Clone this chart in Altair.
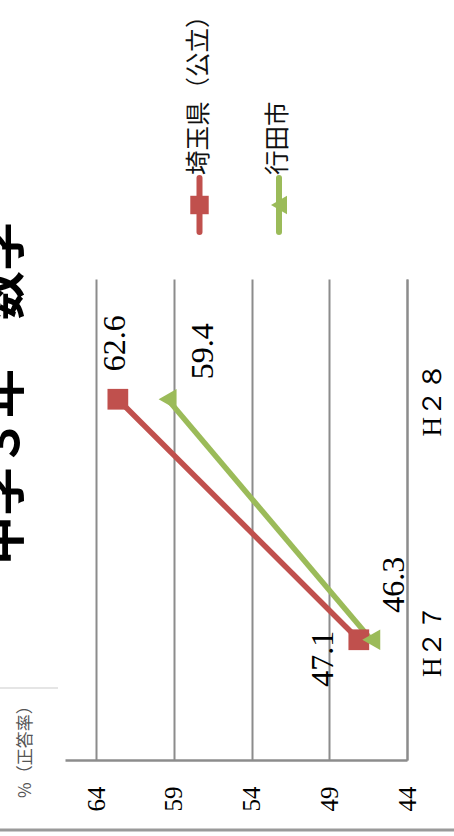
import altair as alt
import pandas as pd

# Survey years (category axis) and correct-answer rates (%)
years = ["H２７", "H２８"]
series = ["埼玉県（公立）", "行田市"]
saitama = [47.1, 62.6]
gyoda = [46.3, 59.4]
value_ticks = [44, 49, 54, 59, 64]

colors = ["#C0504D", "#9BBB59"]
shapes = ["square", "triangle-left"]

rows = []
for name, vals in zip(series, [saitama, gyoda]):
    for yr, v in zip(years, vals):
        rows.append({"series": name, "year": yr, "value": v})
df = pd.DataFrame(rows)

SERIF = "'Liberation Serif', 'Times New Roman', 'DejaVu Serif', serif"
CJK = "'Noto Sans CJK JP', sans-serif"
GRID = "#8c8c8c"

x_enc = alt.X(
    "value:Q",
    scale=alt.Scale(domain=[44, 66], reverse=True, nice=False, zero=False),
    axis=alt.Axis(
        values=value_ticks, format="d", orient="bottom", title=None,
        grid=True, gridColor=GRID, gridWidth=2,
        domainColor=GRID, domainWidth=2.5,
        ticks=False, tickSize=0, labelFlush=False,
        labelAngle=270, labelAlign="right", labelBaseline="middle",
        labelPadding=26, labelFont=SERIF, labelFontSize=25, labelColor="black",
    ),
)
y_enc = alt.Y(
    "year:N",
    scale=alt.Scale(domain=list(reversed(years))),
    axis=alt.Axis(
        orient="right", title=None, grid=False,
        domainColor=GRID, domainWidth=2,
        ticks=False, tickSize=0,
        labelAngle=270, labelAlign="center", labelBaseline="middle",
        labelPadding=25, labelFont=SERIF, labelFontSize=27, labelColor="black",
    ),
)
color_enc = alt.Color("series:N", scale=alt.Scale(domain=series, range=colors), legend=None)
shape_enc = alt.Shape("series:N", scale=alt.Scale(domain=series, range=shapes), legend=None)

base = alt.Chart(df).encode(x=x_enc, y=y_enc, color=color_enc)

lines = base.mark_line(strokeWidth=5.5).encode(detail="series:N")
points = base.mark_point(filled=True, size=430, opacity=1, strokeWidth=0).encode(shape=shape_enc)

# value labels, each nudged beside its marker
label_spec = [
    (series[0], years[1], 28, -3),
    (series[1], years[1], 20, 35),
    (series[0], years[0], -47, -36),
    (series[1], years[0], 27, 23),
]
labels = []
for name, yr, dx, dy in label_spec:
    labels.append(
        alt.Chart(df)
        .transform_filter((alt.datum.series == name) & (alt.datum.year == yr))
        .mark_text(angle=270, align="left", baseline="middle", dx=dx, dy=dy,
                   font=SERIF, fontSize=32, color="black")
        .encode(x=x_enc, y=y_enc, text=alt.Text("value:Q", format=".1f"))
    )

main = alt.layer(lines, points, *labels)

# legend drawn as a rotated key above the plot
leg_x = alt.X("series:N", scale=alt.Scale(type="point", domain=series, range=[134.5, 214], padding=0), axis=None)
leg_df = pd.DataFrame({"series": series})
leg_base = alt.Chart(leg_df).encode(x=leg_x, color=color_enc)
leg_rule = leg_base.mark_rule(strokeWidth=6, strokeCap="round").encode(
    y=alt.value(-101), y2=alt.value(-47))
leg_point = leg_base.mark_point(filled=True, size=340, opacity=1, strokeWidth=0).encode(
    y=alt.value(-74), shape=shape_enc)
leg_text = alt.Chart(leg_df).mark_text(
    angle=270, align="left", baseline="middle", font=CJK, fontSize=24.5, color="#111"
).encode(x=leg_x, y=alt.value(-104), text="series:N")
legend = alt.layer(leg_rule, leg_point, leg_text)

# title, unit note and frame lines
one = pd.DataFrame({"k": [0]})
title = alt.Chart(one).mark_text(
    angle=270, align="left", baseline="alphabetic", font=CJK, fontSize=49,
    fontWeight="bold", color="black"
).encode(x=alt.value(-46), y=alt.value(286), text=alt.value("中学３年　数学"))
unit = alt.Chart(one).mark_text(
    angle=270, align="left", baseline="middle", font=CJK, fontSize=17, color="#555"
).encode(x=alt.value(-39), y=alt.value(519), text=alt.value("%（正答率）"))
frame_bottom = alt.Chart(one).mark_rule(color="#9a9a9a", strokeWidth=3).encode(
    x=alt.value(-65), x2=alt.value(389), y=alt.value(551))
frame_note = alt.Chart(one).mark_rule(color="#dddddd", strokeWidth=1.5).encode(
    x=alt.value(-65), x2=alt.value(-7), y=alt.value(409))
decor = alt.layer(title, unit, frame_bottom, frame_note)

chart = (
    alt.layer(main, legend, decor)
    .resolve_scale(x="independent")
    .properties(
        width=342, height=481,
        autosize=alt.AutoSizeParams(type="none"),
        padding={"left": 65, "top": 279, "right": 47, "bottom": 76},
        background="white",
    )
    .configure_view(stroke=None)
)

chart.save("out.html", embed_options={"renderer": "svg", "actions": False})
